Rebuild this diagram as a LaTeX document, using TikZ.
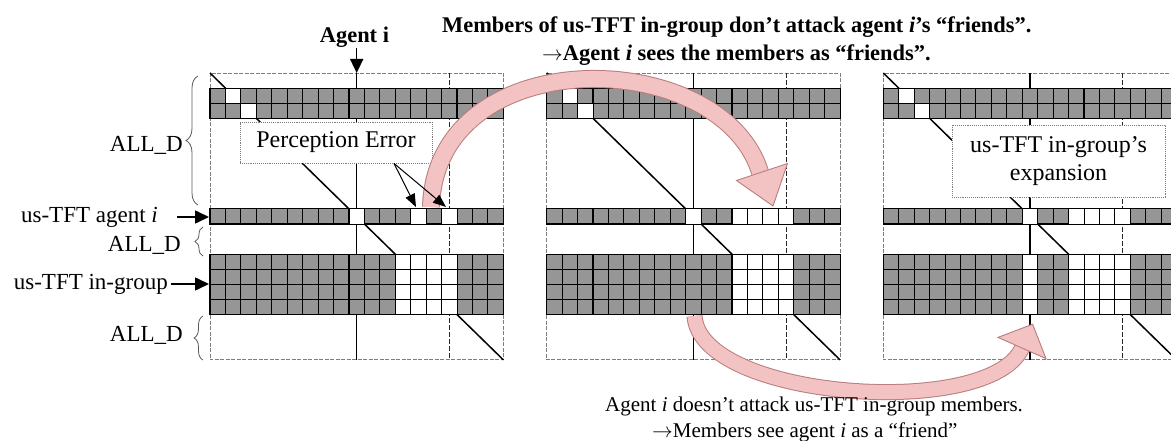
\documentclass[tikz,border=0pt]{standalone}
\usepackage{fontspec}
\setmainfont{Liberation Serif}
\usetikzlibrary{arrows.meta,decorations.pathreplacing}

\definecolor{cellgray}{RGB}{150,150,150}
\definecolor{pinkfill}{RGB}{243,194,194}
\definecolor{pinkedge}{RGB}{185,125,125}
\definecolor{framegray}{RGB}{125,125,125}

% size of one matrix cell (1 unit = 1pt)
\newcommand{\cellw}{15.44}
\newcommand{\cellh}{15.1}

\tikzset{
  gcell/.style={fill=cellgray, draw=black, line width=1.1pt},
  wcell/.style={fill=white, draw=black, line width=0.9pt},
  frameline/.style={draw=framegray, line width=0.9pt, dash pattern=on 4pt off 1.5pt},
  guide/.style={draw=black, line width=1.1pt},
  guidedash/.style={draw=black!85, line width=1pt, dash pattern=on 5pt off 2pt},
  diagline/.style={draw=black, line width=1.5pt},
  notebox/.style={draw=framegray, densely dotted, line width=0.9pt, fill=white, inner sep=0pt,
    font=\fontsize{24}{28}\selectfont},
  lbl/.style={inner sep=0pt, font=\fontsize{23}{27}\selectfont},
  caption/.style={inner sep=0pt, font=\fontsize{22.4}{27}\selectfont\bfseries},
  lowcaption/.style={inner sep=0pt, font=\fontsize{21}{26}\selectfont},
  blackarrow/.style={draw=black, line width=1.6pt, -{Triangle[length=14pt,width=13pt]}},
  errarrow/.style={draw=black, line width=1pt, -{Triangle[length=13pt,width=10pt]}},
  bracestyle/.style={draw=black!65, line width=0.8pt, decorate},
  bandedge/.style={draw=pinkedge, line cap=butt},
  bandfill/.style={draw=pinkfill, line cap=butt},
  arrowhead/.style={fill=pinkfill, draw=pinkedge, line width=0.9pt, line join=miter},
}

% one cell: style, left edge of matrix, column, row
\newcommand{\cellbox}[4]{\path[#1] ({#2+#3*\cellw},{73+#4*\cellh}) rectangle ++(\cellw,\cellh);}
% one full row of grey cells
\newcommand{\grayrow}[2]{\foreach \c in {0,...,18}{\cellbox{gcell}{#1}{\c}{#2}}}
% a whole matrix: left edge, white columns of agent i's row, white columns of the in-group rows
\newcommand{\drawmatrix}[3]{%
  \draw[frameline] (#1,73) rectangle ({#1+19*\cellw},{73+19*\cellh});
  \draw[guide] ({#1+9.5*\cellw},73) -- ({#1+9.5*\cellw},{73+19*\cellh});
  \draw[guidedash] ({#1+15.5*\cellw},73) -- ({#1+15.5*\cellw},{73+19*\cellh});
  \draw[diagline] (#1,73) -- ({#1+19*\cellw},{73+19*\cellh});
  \grayrow{#1}{1}\grayrow{#1}{2}
  \cellbox{wcell}{#1}{1}{1}\cellbox{wcell}{#1}{2}{2}
  \grayrow{#1}{9}
  \foreach \c in {#2}{\cellbox{wcell}{#1}{\c}{9}}
  \foreach \r in {12,...,15}{\grayrow{#1}{\r}}
  \foreach \r in {12,...,15}{\foreach \c in {#3}{\cellbox{wcell}{#1}{\c}{\r}}}
}

\begin{document}
\begin{tikzpicture}[x=1pt,y=-1pt]
\useasboundingbox (0,0) rectangle (1171,441);
\clip (0,0) rectangle (1171,441);

% the three payoff matrices
\drawmatrix{210}{9,13,15}{12,13,14,15}
\drawmatrix{546.7}{9,12,13,14,15}{12,13,14,15}
\drawmatrix{883.3}{9,12,13,14,15}{9,12,13,14,15}

% callout boxes
\node[notebox, minimum width=192pt, minimum height=41pt] (pebox) at (336,142.5)
  {Perception Error};
\node[notebox, minimum width=213pt, minimum height=72pt, align=center] (expbox) at (1058.5,161)
  {us-TFT in-group’s\\expansion};

% upper curved arrow: matrix 1 -> matrix 2
\coordinate (ua0) at (431,207);
\coordinate (ua1) at (760,172);
\draw[bandedge, line width=18pt] (ua0) .. controls (436,40) and (720,45) .. (ua1);
\draw[bandfill, line width=16pt] (ua0) .. controls (436,40) and (720,45) .. (ua1);
\path[arrowhead] (736.5,180.5) -- (787.5,163.5) -- (773,206) -- cycle;

% lower curved arrow: matrix 2 -> matrix 3
\coordinate (la0) at (694.5,316);
\coordinate (la1) at (1022,348);
\draw[bandedge, line width=16pt] (la0) .. controls (700,400) and (990,420) .. (la1);
\draw[bandfill, line width=14pt] (la0) .. controls (700,400) and (990,420) .. (la1);
\path[arrowhead] (998,337.4) -- (1046,358.6) -- (1032.6,324.2) -- cycle;

% perception error pointers
\coordinate (err1) at (416,207);
\coordinate (err2) at (446,207);
\draw[errarrow] ([xshift=58pt]pebox.south) -- (err1);
\draw[errarrow] ([xshift=58pt]pebox.south) -- (err2);

% agent i column marker
\node[inner sep=0pt, font=\fontsize{22.4}{27}\selectfont\bfseries, anchor=base] (agentlbl) at (354.5,43) {Agent i};
\coordinate (agentcol) at ({210+9.5*\cellw},73);
\draw[blackarrow] (agentlbl.south -| agentcol) -- (agentcol);

% row labels on the left
\node[lbl, anchor=east] (allda) at (183,145) {ALL\_D};
\draw[bracestyle, decoration={brace, amplitude=12pt}] (198,205) -- (198,76);
\node[lbl, anchor=east] (agentrow) at (158,217) {us-TFT agent \textit{i}};
\coordinate (m1agent) at (209,217);
\draw[blackarrow] ([xshift=19pt]agentrow.east) -- (m1agent);
\node[lbl, anchor=east] (alldb) at (181,245) {ALL\_D};
\draw[bracestyle, decoration={brace, amplitude=8pt}] (203,256) -- (203,227);
\node[lbl, anchor=east] (ingroup) at (168,284) {us-TFT in-group};
\coordinate (m1group) at (209,284);
\draw[blackarrow] ([xshift=3pt]ingroup.east) -- (m1group);
\node[lbl, anchor=east] (alldc) at (183,335) {ALL\_D};
\draw[bracestyle, decoration={brace, amplitude=9pt}] (203,360) -- (203,316);

% captions
\node[caption, anchor=base west] (topA) at (442,33)
  {Members of us-TFT in-group don’t attack agent \textit{i}’s “friends”.};
\node[caption, anchor=base west] (topB) at (542,61)
  {$\rightarrow$Agent \textit{i} sees the members as “friends”.};
\node[lowcaption, anchor=base west] (lowA) at (605,411)
  {Agent \textit{i} doesn’t attack us-TFT in-group members.};
\node[lowcaption, anchor=base west] (lowB) at (652,437)
  {$\rightarrow$Members see agent \textit{i} as a “friend”};
\end{tikzpicture}
\end{document}
